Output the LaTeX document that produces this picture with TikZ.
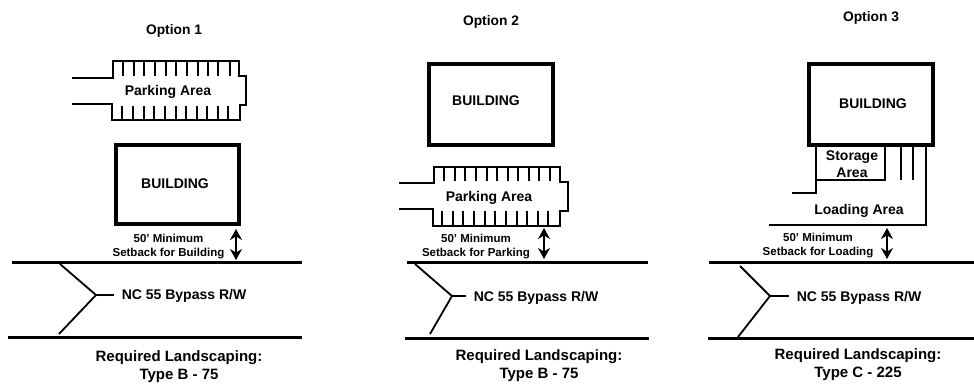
\documentclass[tikz,border=0pt]{standalone}
\usepackage{fontspec}
\setmainfont{Liberation Sans}
\usetikzlibrary{arrows.meta}

\begin{document}
\begin{tikzpicture}[
    x=1pt, y=-1pt,
    titlenode/.style={inner sep=0, yshift=-1.5pt, font=\bfseries\fontsize{13.8}{16}\selectfont},
    areanode/.style={inner sep=0, yshift=-1.5pt, align=center, font=\bfseries\fontsize{14}{17}\selectfont},
    setbacknode/.style={inner sep=0, yshift=-1.5pt, align=center, font=\bfseries\fontsize{11.5}{14}\selectfont},
    landnode/.style={inner sep=0, yshift=-1.5pt, align=center, font=\bfseries\fontsize{15}{18}\selectfont},
    buildingbox/.style={draw=black, line width=4.2pt},
    thinline/.style={draw=black, line width=1.8pt},
    roadline/.style={draw=black, line width=3pt},
    setbackarrow/.style={{Stealth[length=11pt,width=12pt]}-{Stealth[length=11pt,width=12pt]}, draw=black, line width=1.6pt}
    ]
        \useasboundingbox (0,0) rectangle (974,383);

        %Option 1
        \node[titlenode] (title1) at (174,29) {Option 1};
        \draw[thinline] (72,78) -- (113,78) -- (113,61) -- (239,61) -- (239,76) -- (246,76)
            -- (246,105) -- (240,105) -- (240,120) -- (112,120) -- (112,104) -- (72,104);
        \foreach \x in {123,133.7,144,155,166,176,187,198,208,218,230}
            \draw[thinline] (\x,61) -- (\x,76);
        \foreach \x in {122,133,144,154,165,176,186,197,207,218,228}
            \draw[thinline] (\x,106) -- (\x,120);
        \node[areanode] (park1) at (168,90) {Parking Area};
        \draw[buildingbox] (116,145) rectangle (239,224);
        \node[areanode] (bldg1) at (175,182) {BUILDING};
        \node[setbacknode] (set1) at (168.5,245) {50' Minimum\\Setback for Building};
        \draw[setbackarrow] (236,229) -- (236,260);
        \draw[roadline] (12,262) -- (302,262);
        \draw[roadline] (8,337) -- (302,337);
        \draw[thinline] (60,264) -- (96,295) -- (59,334);
        \draw[thinline] (96,295) -- (114,295);
        \node[areanode] (road1) at (184,294) {NC 55 Bypass R/W};
        \node[landnode] (land1) at (179,365) {Required Landscaping:\\Type B - 75};

        %Option 2
        \node[titlenode] (title2) at (491,20) {Option 2};
        \draw[buildingbox] (429,64) rectangle (553,145);
        \node[areanode] (bldg2) at (486,99) {BUILDING};
        \draw[thinline] (399,183) -- (434,183) -- (434,167) -- (560,167) -- (560,182) -- (568,182)
            -- (568,211) -- (560,211) -- (560,226) -- (433,226) -- (433,209) -- (399,209);
        \foreach \x in {444,455,465,476,487,497,508,518,529,539,550}
            \draw[thinline] (\x,167) -- (\x,181);
        \foreach \x in {442,453,463,474,485,495,506,517,527,538,548}
            \draw[thinline] (\x,211) -- (\x,226);
        \node[areanode] (park2) at (489,196) {Parking Area};
        \node[setbacknode] (set2) at (476,245) {50' Minimum\\Setback for Parking};
        \draw[setbackarrow] (544,228) -- (544,259);
        \draw[roadline] (407,262) -- (648,262);
        \draw[roadline] (405,338) -- (649,338);
        \draw[thinline] (415,264) -- (452,296) -- (430,334);
        \draw[thinline] (452,296) -- (466,296);
        \node[areanode] (road2) at (536,296) {NC 55 Bypass R/W};
        \node[landnode] (land2) at (539,364) {Required Landscaping:\\Type B - 75};

        %Option 3
        \node[titlenode] (title3) at (871,16) {Option 3};
        \draw[buildingbox] (809,64) rectangle (933,145);
        \node[areanode] (bldg3) at (873,102) {BUILDING};
        \draw[thinline] (792,193) -- (816,193) -- (816,147);
        \draw[thinline] (816,180) -- (885,180) -- (885,147);
        \draw[thinline] (901,147) -- (901,180);
        \draw[thinline] (913,147) -- (913,180);
        \draw[thinline] (926,147) -- (926,225) -- (769,225);
        \node[areanode] (store3) at (852,162.5) {Storage\\Area};
        \node[areanode] (load3) at (859,209) {Loading Area};
        \node[setbacknode] (set3) at (818,244) {50' Minimum\\Setback for Loading};
        \draw[setbackarrow] (887,228) -- (887,259);
        \draw[roadline] (709,262) -- (974,262);
        \draw[roadline] (708,338) -- (974,338);
        \draw[thinline] (740,266) -- (770,296) -- (738,337);
        \draw[thinline] (770,296) -- (789,296);
        \node[areanode] (road3) at (859,296) {NC 55 Bypass R/W};
        \node[landnode] (land3) at (858,363) {Required Landscaping:\\Type C - 225};
    \end{tikzpicture}
\end{document}
